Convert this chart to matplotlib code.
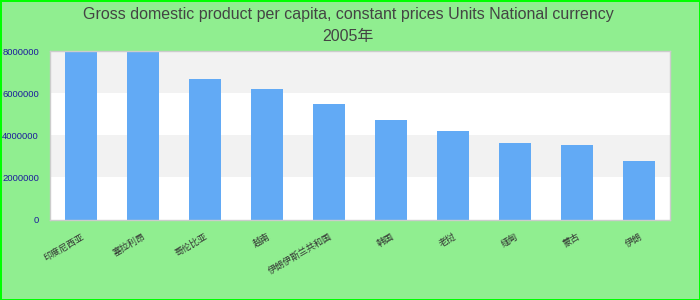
import matplotlib
matplotlib.use("Agg")
import matplotlib.pyplot as plt

plt.rcParams["font.family"] = ["Liberation Sans", "Noto Sans CJK SC", "DejaVu Sans"]

# data (first two bars run past the top of the axis)
countries = ["印度尼西亚", "塞拉利昂", "哥伦比亚", "越南", "伊朗伊斯兰共和国",
             "韩国", "老挝", "缅甸", "蒙古", "伊朗"]
gdp = [8600000, 8300000, 6680000, 6210000, 5490000,
       4730000, 4210000, 3640000, 3540000, 2780000]
y_ticks = [0, 2000000, 4000000, 6000000, 8000000]
y_labels = ["0", "2000000", "4000000", "6000000", "8000000"]

title = ("Gross domestic product per capita, constant prices Units National currency\n"
         "2005年")

fig = plt.figure(figsize=(7, 3), dpi=100)
fig.patch.set_facecolor("#90ee90")
ax = fig.add_axes([50 / 700, 80.5 / 300, 620 / 700, 168.2 / 300])
ax.set_facecolor("white")

# alternating grey bands
for lo, hi in zip(y_ticks[1::2], y_ticks[2::2]):
    ax.axhspan(lo, hi, color="#f2f2f2", zorder=0, lw=0)

x = range(len(countries))
ax.bar(x, gdp, width=0.52, color="#62aaf5", zorder=2)

ax.set_xlim(-0.5, len(countries) - 0.5)
ax.set_ylim(0, y_ticks[-1])

ax.set_yticks(y_ticks)
ax.set_yticklabels(y_labels, color="#1c1c9c", fontsize=6.8)
ax.set_xticks(list(x))
ax.set_xticklabels(countries, rotation=30, ha="right", rotation_mode="anchor",
                   fontsize=6.5, color="#333333")
ax.tick_params(axis="both", length=0)
ax.tick_params(axis="y", pad=8)
ax.tick_params(axis="x", pad=9)

for s in ax.spines.values():
    s.set_color("#cccccc")
    s.set_linewidth(1)

fig.text(0.497, 0.977, title, ha="center", va="top", fontsize=11.5,
         color="#444444", linespacing=1.62)

fig.patch.set_edgecolor("#00ff00")
fig.patch.set_linewidth(2)
fig.savefig("out.png", dpi=100, facecolor=fig.get_facecolor(),
            edgecolor=fig.get_edgecolor())
